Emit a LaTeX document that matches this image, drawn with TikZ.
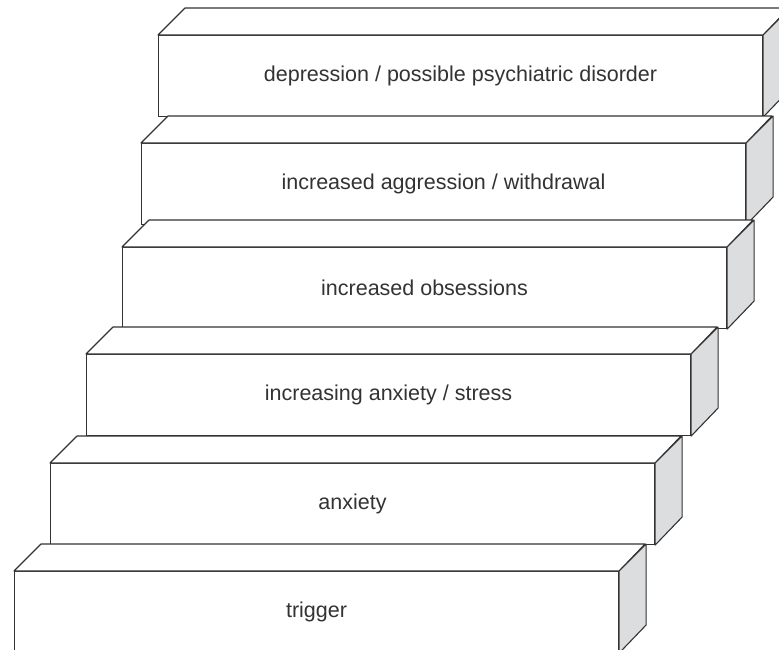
\documentclass[tikz,border=0pt]{standalone}
\usepackage{fontspec}
\setmainfont{Liberation Sans}
\definecolor{edge}{HTML}{333333}
\definecolor{sidegray}{HTML}{DCDDDF}
\newcommand\stairblock[4]{%
  \node[front] (#1) at (#2,#3) {#4};
  \draw[topface] (#1.north west) -- ++(27,-27) -- ++(604,0) -- (#1.north east) -- cycle;
  \draw[sideface] (#1.north east) -- ++(27,-27) -- ++(0,81) -- (#1.south east) -- cycle;
}
\begin{document}
\begin{tikzpicture}[x=1pt,y=-1pt,
  front/.style={draw=edge, line width=1.1pt, fill=white, minimum width=604pt,
    minimum height=81pt, inner sep=0pt, anchor=north west,
    font=\fontsize{21.5}{25}\selectfont, text=edge},
  topface/.style={draw=edge, line width=1.1pt, fill=white, line join=round},
  sideface/.style={draw=edge, line width=1.1pt, fill=sidegray, line join=round}]
\useasboundingbox (0,0) rectangle (779,649);
\clip (0,0) rectangle (779,649);
\stairblock{b1}{158}{35}{depression / possible psychiatric disorder}
\stairblock{b2}{141}{143}{increased aggression / withdrawal}
\stairblock{b3}{122}{247}{increased obsessions}
\stairblock{b4}{86}{354}{increasing anxiety / stress}
\stairblock{b5}{50}{463}{anxiety}
\stairblock{b6}{14}{571}{trigger}
\end{tikzpicture}
\end{document}
